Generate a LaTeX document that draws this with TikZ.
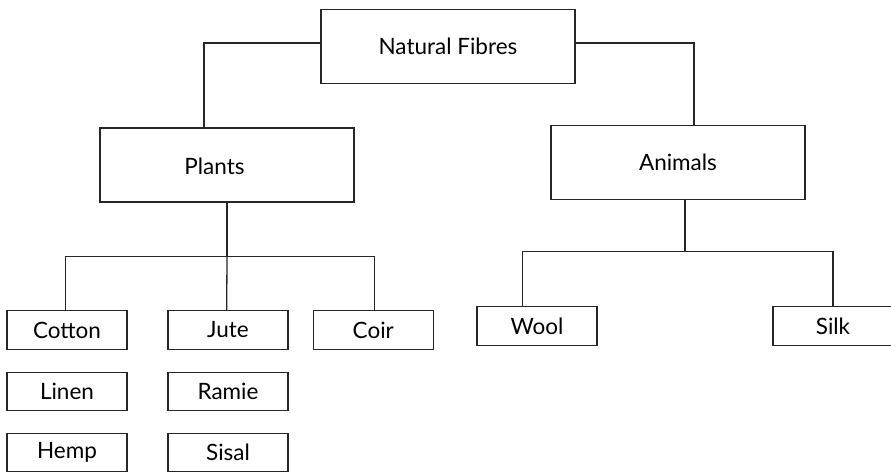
\documentclass[tikz,border=0pt]{standalone}
\usepackage{fontspec}
\setmainfont{Lato}
\usepackage{tikz}

\begin{document}
\begin{tikzpicture}[x=1pt,y=-1pt,line width=1.3pt,
  bigbox/.style={draw=black!85,minimum width=254pt,minimum height=74pt,inner sep=0pt},
  smallbox/.style={draw=black!85,minimum width=120pt,minimum height=38.6pt,inner sep=0pt},
  txt/.style={font=\fontsize{22.5}{27}\selectfont},
  link/.style={draw=black!85}]
\useasboundingbox (0,0) rectangle (891,471);
\clip (0,0) rectangle (891,471);
% top level
\node[bigbox,txt] (nat) at (448,46.3) {Natural Fibres};
\node[bigbox] (plants) at (227,165) {};
\node[txt] (plantst) at (214.5,166) {Plants};
\node[bigbox,txt] (animals) at (678,162.7) {Animals};
% plant fibres
\node[smallbox,txt] (cotton) at (67,330) {Cotton};
\node[smallbox,txt] (jute) at (228,330) {Jute};
\node[smallbox,txt] (coir) at (373.3,330) {Coir};
\node[smallbox,txt] (linen) at (67,391.5) {Linen};
\node[smallbox,txt] (ramie) at (228,391.5) {Ramie};
\node[smallbox,txt] (hemp) at (67,452.6) {Hemp};
\node[smallbox,txt] (sisal) at (228,452.6) {Sisal};
% animal fibres
\node[smallbox,txt] (wool) at (537,326) {Wool};
\node[smallbox,txt] (silk) at (833,326) {Silk};
% connectors
\draw[link] ([yshift=3.3pt]nat.west) -| ([xshift=-23pt]plants.north);
\draw[link] ([yshift=3.3pt]nat.east) -| ([xshift=16pt]animals.north);
\coordinate (pfork) at (227,256.7);
\draw[link] (plants.south) -- (pfork);
\draw[link] ([xshift=-1.7pt]cotton.north) |- (pfork) -| ([xshift=1.4pt]coir.north);
\draw[link] (pfork) -- ([xshift=-1.3pt]jute.north);
\coordinate (afork) at (685,251.7);
\draw[link] ([xshift=7pt]animals.south) -- (afork);
\draw[link] ([xshift=-14.3pt]wool.north) |- (afork) -| (silk.north);
\end{tikzpicture}
\end{document}
